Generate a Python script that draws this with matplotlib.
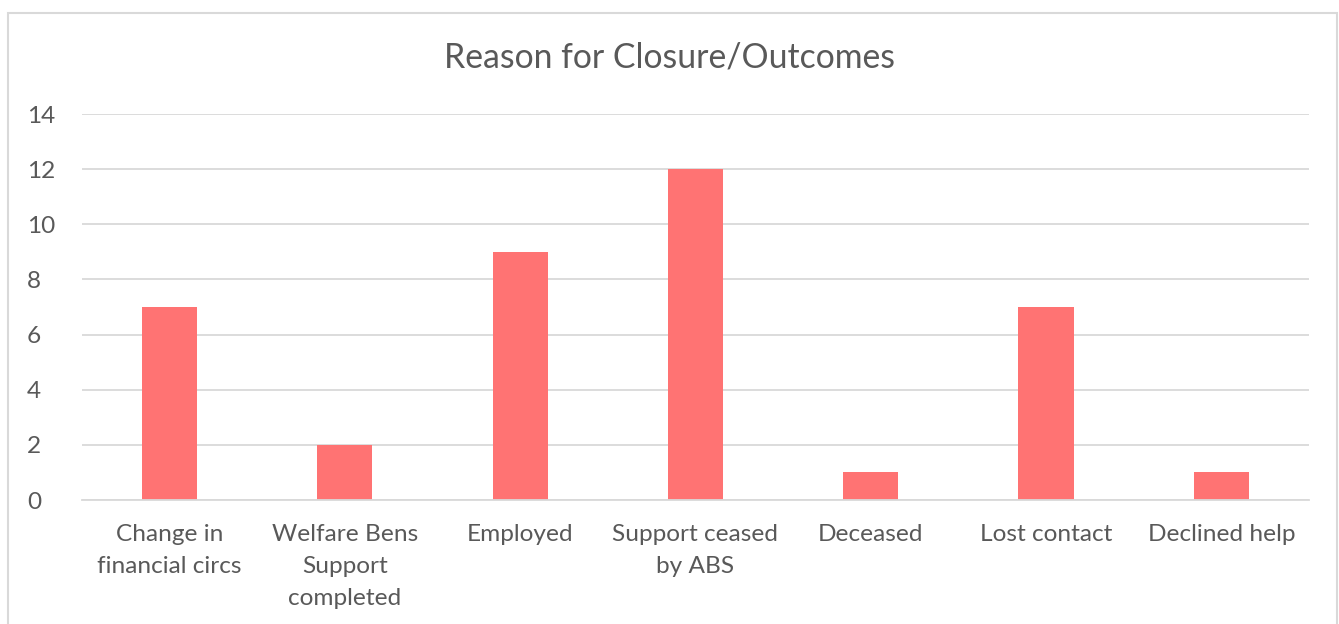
import matplotlib
matplotlib.use("Agg")
import matplotlib.pyplot as plt
from matplotlib.patches import Rectangle

categories = ["Change in\nfinancial circs", "Welfare Bens\nSupport\ncompleted", "Employed",
              "Support ceased\nby ABS", "Deceased", "Lost contact", "Declined help"]
counts = [7, 2, 9, 12, 1, 7, 1]
yticks = [0, 2, 4, 6, 8, 10, 12, 14]

plt.rcParams['font.family'] = ['Lato', 'DejaVu Sans']
txt = '#595959'
grid = '#d9d9d9'

fig = plt.figure(figsize=(13.39, 6.24), dpi=100)
fig.patches.append(Rectangle((8 / 1339, -0.1), 1329 / 1339, 1.1 - 13 / 624,
                             transform=fig.transFigure, fill=False,
                             edgecolor=grid, linewidth=1.5))
ax = fig.add_axes([0.0612, 0.1987, 0.9164, 0.6186])

x = range(len(categories))
ax.bar(x, counts, width=0.315, color='#FF7373', zorder=2)
ax.set_xlim(-0.5, len(categories) - 0.5)
ax.set_ylim(0, 14)
ax.set_yticks(yticks)
ax.set_xticks(list(x))
ax.set_xticklabels(categories)
ax.tick_params(axis='both', length=0, labelsize=17.6, colors=txt)
ax.tick_params(axis='x', pad=17.5)
ax.tick_params(axis='y', pad=39.5)
for lbl in ax.get_xticklabels():
    lbl.set_linespacing(1.63)
for lbl in ax.get_yticklabels():
    lbl.set_horizontalalignment('left')
ax.grid(axis='y', color=grid, linewidth=1.3, zorder=0)
for s in ['top', 'right', 'left']:
    ax.spines[s].set_visible(False)
ax.spines['bottom'].set_color(grid)
ax.spines['bottom'].set_linewidth(1.3)

fig.text(0.5, 0.908, "Reason for Closure/Outcomes", ha='center', va='center',
         fontsize=24.3, color=txt)

fig.savefig("out.png", dpi=100)
